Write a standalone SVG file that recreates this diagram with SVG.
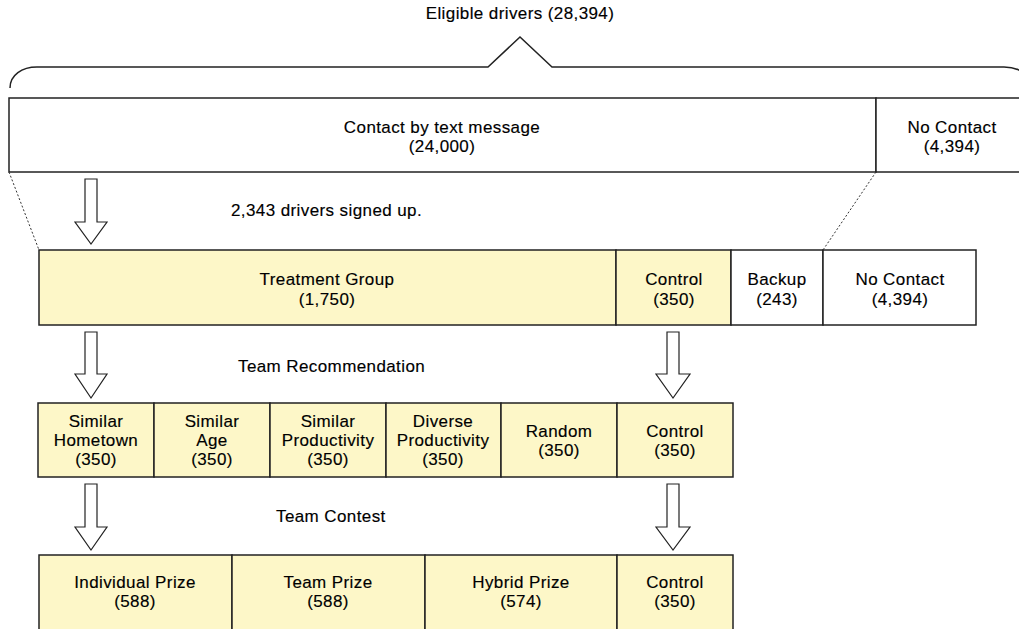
<svg xmlns="http://www.w3.org/2000/svg" width="1019" height="629" viewBox="0 0 1019 629">
<style>
text{font-family:"Liberation Sans",Arial,sans-serif;font-size:17px;fill:#000;stroke:#000;stroke-width:0.15;letter-spacing:0.4px}
.c{text-anchor:middle}
.box{stroke:#222;stroke-width:1.5}
.y{fill:#FDF7C8}
.w{fill:#fff}
.arr{fill:#fff;stroke:#222;stroke-width:1.2;stroke-linejoin:miter}
.dot{fill:none;stroke:#333;stroke-width:1;stroke-dasharray:2 2}
</style>
<rect width="1019" height="629" fill="#fff"/>
<g id="eligible">
<text class="c" x="520" y="19">Eligible drivers (28,394)</text>
<path d="M10 88 C10 75 22 67 37 67 L488 67 L520 37 L552 67 L1004 67 C1019 67 1031 75 1031 88" fill="none" stroke="#222" stroke-width="1.5"/>
</g>
<g id="contact">
<rect class="box w" x="9" y="98" width="867" height="74"/>
<text class="c" x="442" y="133">Contact by text message</text>
<text class="c" x="442" y="152">(24,000)</text>
</g>
<g id="nocontact1">
<rect class="box w" x="876" y="98" width="150" height="74"/>
<text class="c" x="952" y="133">No Contact</text>
<text class="c" x="952" y="152">(4,394)</text>
</g>
<g id="treatment">
<rect class="box y" x="39" y="250" width="577" height="75"/>
<text class="c" x="327" y="285">Treatment Group</text>
<text class="c" x="327" y="305">(1,750)</text>
</g>
<g id="control1">
<rect class="box y" x="616" y="250" width="115" height="75"/>
<text class="c" x="674" y="285">Control</text>
<text class="c" x="674" y="305">(350)</text>
</g>
<g id="backup">
<rect class="box w" x="731" y="250" width="92" height="75"/>
<text class="c" x="777" y="285">Backup</text>
<text class="c" x="777" y="305">(243)</text>
</g>
<g id="nocontact2">
<rect class="box w" x="823" y="250" width="153" height="75"/>
<text class="c" x="900" y="285">No Contact</text>
<text class="c" x="900" y="305">(4,394)</text>
</g>
<g id="hometown">
<rect class="box y" x="38" y="403" width="116" height="74"/>
<text class="c" x="96" y="427">Similar</text>
<text class="c" x="96" y="446">Hometown</text>
<text class="c" x="96" y="465">(350)</text>
</g>
<g id="age">
<rect class="box y" x="154" y="403" width="116" height="74"/>
<text class="c" x="212" y="427">Similar</text>
<text class="c" x="212" y="446">Age</text>
<text class="c" x="212" y="465">(350)</text>
</g>
<g id="simprod">
<rect class="box y" x="270" y="403" width="116" height="74"/>
<text class="c" x="328" y="427">Similar</text>
<text class="c" x="328" y="446">Productivity</text>
<text class="c" x="328" y="465">(350)</text>
</g>
<g id="divprod">
<rect class="box y" x="386" y="403" width="115" height="74"/>
<text class="c" x="443" y="427">Diverse</text>
<text class="c" x="443" y="446">Productivity</text>
<text class="c" x="443" y="465">(350)</text>
</g>
<g id="random">
<rect class="box y" x="501" y="403" width="116" height="74"/>
<text class="c" x="559" y="437">Random</text>
<text class="c" x="559" y="456">(350)</text>
</g>
<g id="control2">
<rect class="box y" x="617" y="403" width="116" height="74"/>
<text class="c" x="675" y="437">Control</text>
<text class="c" x="675" y="456">(350)</text>
</g>
<g id="indiv">
<rect class="box y" x="39" y="555" width="193" height="77"/>
<text class="c" x="135" y="588">Individual Prize</text>
<text class="c" x="135" y="607">(588)</text>
</g>
<g id="teamprize">
<rect class="box y" x="232" y="555" width="193" height="77"/>
<text class="c" x="328" y="588">Team Prize</text>
<text class="c" x="328" y="607">(588)</text>
</g>
<g id="hybrid">
<rect class="box y" x="425" y="555" width="192" height="77"/>
<text class="c" x="521" y="588">Hybrid Prize</text>
<text class="c" x="521" y="607">(574)</text>
</g>
<g id="control3">
<rect class="box y" x="617" y="555" width="116" height="77"/>
<text class="c" x="675" y="588">Control</text>
<text class="c" x="675" y="607">(350)</text>
</g>
<g id="connectors">
<line class="dot" x1="9" y1="172" x2="39" y2="250"/>
<line class="dot" x1="876" y1="172" x2="823" y2="250"/>
<polygon class="arr" points="85,179 97,179 97,222 107,222 91,244 75,222 85,222"/>
<polygon class="arr" points="85,332 97,332 97,374 107,374 91,398 75,374 85,374"/>
<polygon class="arr" points="667,332 679,332 679,374 690,374 673,398 656,374 667,374"/>
<polygon class="arr" points="85,484 97,484 97,527 107,527 91,550 75,527 85,527"/>
<polygon class="arr" points="667,484 679,484 679,527 690,527 673,550 656,527 667,527"/>
<text x="231" y="216">2,343 drivers signed up.</text>
<text x="238" y="372">Team Recommendation</text>
<text x="276" y="522">Team Contest</text>
</g>
</svg>
